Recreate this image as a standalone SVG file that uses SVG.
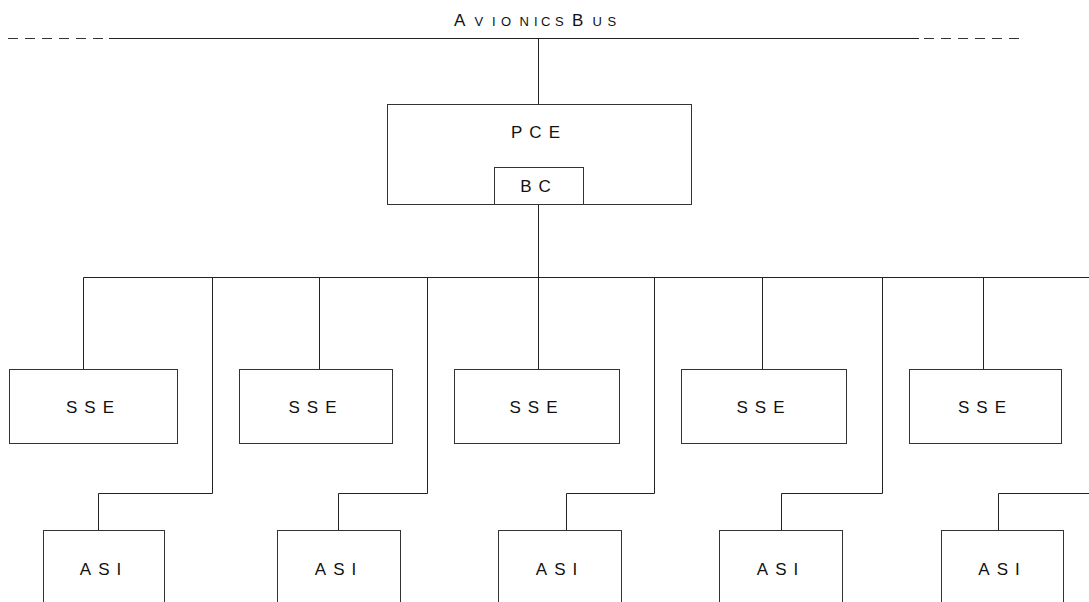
<svg xmlns="http://www.w3.org/2000/svg" width="1089" height="602" viewBox="0 0 1089 602">
<style>
.box{fill:#fff;stroke:#333;stroke-width:1}
.ln{fill:none;stroke:#222;stroke-width:1}
.dash{fill:none;stroke:#333;stroke-width:1;stroke-dasharray:10 7}
.lbl{font-family:"Liberation Sans",Arial,sans-serif;font-size:17px;letter-spacing:7px;fill:#111;text-anchor:middle}
.ttl{font-family:"Liberation Sans",Arial,sans-serif;fill:#111}
</style>
<rect width="1089" height="602" fill="#fff"/>
<g id="bus">
<line class="dash" x1="8" y1="38.5" x2="103" y2="38.5"/>
<line class="ln" x1="109" y1="38.5" x2="919" y2="38.5"/>
<line class="dash" x1="924" y1="38.5" x2="1021" y2="38.5" stroke-dasharray="10 7 10 7 10 6.5 10 7 10 10"/>
<text class="ttl" y="26"><tspan x="454" font-size="17">A</tspan><tspan x="474.5 492 501 519.5 534 541 555" font-size="13">VIONICS</tspan><tspan x="572" font-size="17">B</tspan><tspan x="592.5 607.5" font-size="13">US</tspan></text>
</g>
<g id="connectors">
<path class="ln" d="M538.5 38.5 V104.5"/>
<path class="ln" d="M538.5 204.5 V277.5"/>
<path class="ln" d="M83.5 277.5 H1089"/>
<path class="ln" d="M83.5 277.5 V369.5 M319.5 277.5 V369.5 M538.5 277.5 V369.5 M762.5 277.5 V369.5 M983.5 277.5 V369.5"/>
<path class="ln" d="M212.5 277.5 V493.5 H98.5 V530.5"/>
<path class="ln" d="M427.5 277.5 V493.5 H338.5 V530.5"/>
<path class="ln" d="M654.5 277.5 V493.5 H566.5 V530.5"/>
<path class="ln" d="M882.5 277.5 V493.5 H781.5 V530.5"/>
<path class="ln" d="M1089 493.5 H998.5 V530.5"/>
</g>
<g id="pce">
<rect class="box" x="387.5" y="104.5" width="304" height="100"/>
<text class="lbl" x="539" y="137.5">PCE</text>
</g>
<g id="bc">
<rect class="box" x="494.5" y="167.5" width="89" height="37"/>
<text class="lbl" x="539" y="192">BC</text>
</g>
<g id="sse1"><rect class="box" x="9.5" y="369.5" width="168" height="74"/><text class="lbl" x="93.5" y="412.5">SSE</text></g>
<g id="sse2"><rect class="box" x="239.5" y="369.5" width="153" height="74"/><text class="lbl" x="316" y="412.5">SSE</text></g>
<g id="sse3"><rect class="box" x="454.5" y="369.5" width="165" height="74"/><text class="lbl" x="537" y="412.5">SSE</text></g>
<g id="sse4"><rect class="box" x="681.5" y="369.5" width="165" height="74"/><text class="lbl" x="764" y="412.5">SSE</text></g>
<g id="sse5"><rect class="box" x="909.5" y="369.5" width="152" height="74"/><text class="lbl" x="985.5" y="412.5">SSE</text></g>
<g id="asi1"><rect class="box" x="43.5" y="530.5" width="121" height="90"/><text class="lbl" x="104" y="575">ASI</text></g>
<g id="asi2"><rect class="box" x="277.5" y="530.5" width="123" height="90"/><text class="lbl" x="339" y="575">ASI</text></g>
<g id="asi3"><rect class="box" x="498.5" y="530.5" width="123" height="90"/><text class="lbl" x="560" y="575">ASI</text></g>
<g id="asi4"><rect class="box" x="719.5" y="530.5" width="123" height="90"/><text class="lbl" x="781" y="575">ASI</text></g>
<g id="asi5"><rect class="box" x="941.5" y="530.5" width="122" height="90"/><text class="lbl" x="1002.5" y="575">ASI</text></g>
</svg>
